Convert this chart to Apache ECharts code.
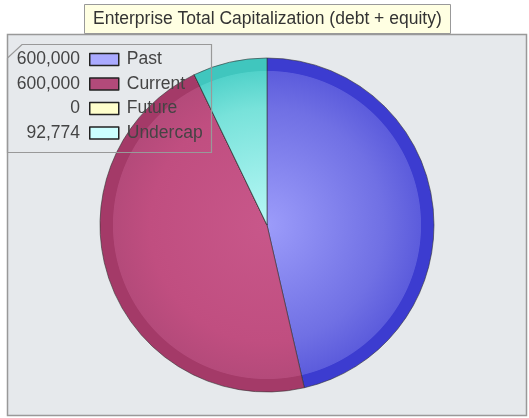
<!DOCTYPE html>
<html>
<head>
<meta charset="utf-8">
<script src="https://cdn.jsdelivr.net/npm/echarts@6/dist/echarts.min.js"></script>
<style>
  html, body { margin: 0; padding: 0; background: #fff; }
  #main { width: 529px; height: 418px; }
</style>
</head>
<body>
<div id="main"></div>
<script>
// data
var names = ['Past', 'Current', 'Future', 'Undercap'];
var values = [600000, 600000, 0, 92774];
var legendColors = ['#aaaaff', '#b24a7a', '#ffffcc', '#ccffff'];
// pie fill: [centre, mid, inner edge, rim]
var pieShades = [
    ['#9c9cfa', '#7070e4', '#5c5cdc', '#3c3cd0'],
    ['#c8578a', '#c04e80', '#b44a7a', '#a43a68'],
    ['#ffffe8', '#ffffcc', '#f0f0b0', '#e0e090'],
    ['#b8f8f6', '#78e2da', '#52d2ca', '#40c6be']
];

var cx = 267, cy = 225, R = 167;
var FONT = '"Liberation Sans", Arial, sans-serif';

function fmt(n) {
    return String(n).replace(/\B(?=(\d{3})+(?!\d))/g, ',');
}

var chart = echarts.init(document.getElementById('main'));

var pieData = names.map(function (n, i) {
    var s = pieShades[i];
    return {
        name: n,
        value: values[i],
        itemStyle: {
            color: {
                type: 'radial', x: cx, y: cy, r: R, global: true,
                colorStops: [
                    { offset: 0, color: s[0] },
                    { offset: 0.7, color: s[1] },
                    { offset: 0.92, color: s[2] },
                    { offset: 0.925, color: s[3] },
                    { offset: 1, color: s[3] }
                ]
            }
        }
    };
});

var rowMid = 59.5, rowPitch = 24.5;
var valueTexts = values.map(function (v, i) {
    return {
        type: 'text',
        style: {
            x: 80,
            y: rowMid + i * rowPitch,
            text: fmt(v),
            fill: '#444',
            font: '17.5px ' + FONT,
            textAlign: 'right',
            textVerticalAlign: 'middle'
        },
        z: 10
    };
});

var option = {
    animation: false,
    backgroundColor: '#fff',
    title: {
        text: 'Enterprise Total Capitalization (debt + equity)',
        left: 84,
        top: 4,
        padding: [6, 9, 6, 9],
        backgroundColor: '#ffffe2',
        borderColor: '#999',
        borderWidth: 1,
        textStyle: {
            fontFamily: FONT,
            fontSize: 17.5,
            fontWeight: 'normal',
            color: '#333'
        }
    },
    graphic: [
        {
            type: 'rect',
            shape: { x: 7.5, y: 34.5, width: 519, height: 381 },
            style: { fill: '#e6e9ec', stroke: '#999', lineWidth: 1.5 },
            z: -10
        },
        {
            type: 'polygon',
            shape: { points: [[22, 44.5], [211.5, 44.5], [211.5, 152.5], [7.5, 152.5], [7.5, 58]] },
            style: { fill: 'none', stroke: '#999', lineWidth: 1.2 },
            z: 10
        }
    ].concat(valueTexts),
    legend: {
        orient: 'vertical',
        left: 89,
        top: rowMid - 10,
        padding: 0,
        itemWidth: 29,
        itemHeight: 12,
        itemGap: 4.5,
        icon: 'rect',
        selectedMode: false,
        data: names.map(function (n, i) {
            return {
                name: n,
                itemStyle: { color: legendColors[i], borderColor: '#222', borderWidth: 1.5 }
            };
        }),
        textStyle: {
            fontFamily: FONT,
            fontSize: 17.5,
            lineHeight: 20,
            color: '#444',
            padding: [0, 0, 0, 3]
        },
        z: 10
    },
    series: [{
        type: 'pie',
        center: [cx, cy],
        radius: [0, R],
        startAngle: 90,
        clockwise: true,
        label: { show: false },
        labelLine: { show: false },
        emphasis: { disabled: true },
        itemStyle: { borderColor: '#333', borderWidth: 0.6 },
        data: pieData
    }]
};

chart.setOption(option);
</script>
</body>
</html>
